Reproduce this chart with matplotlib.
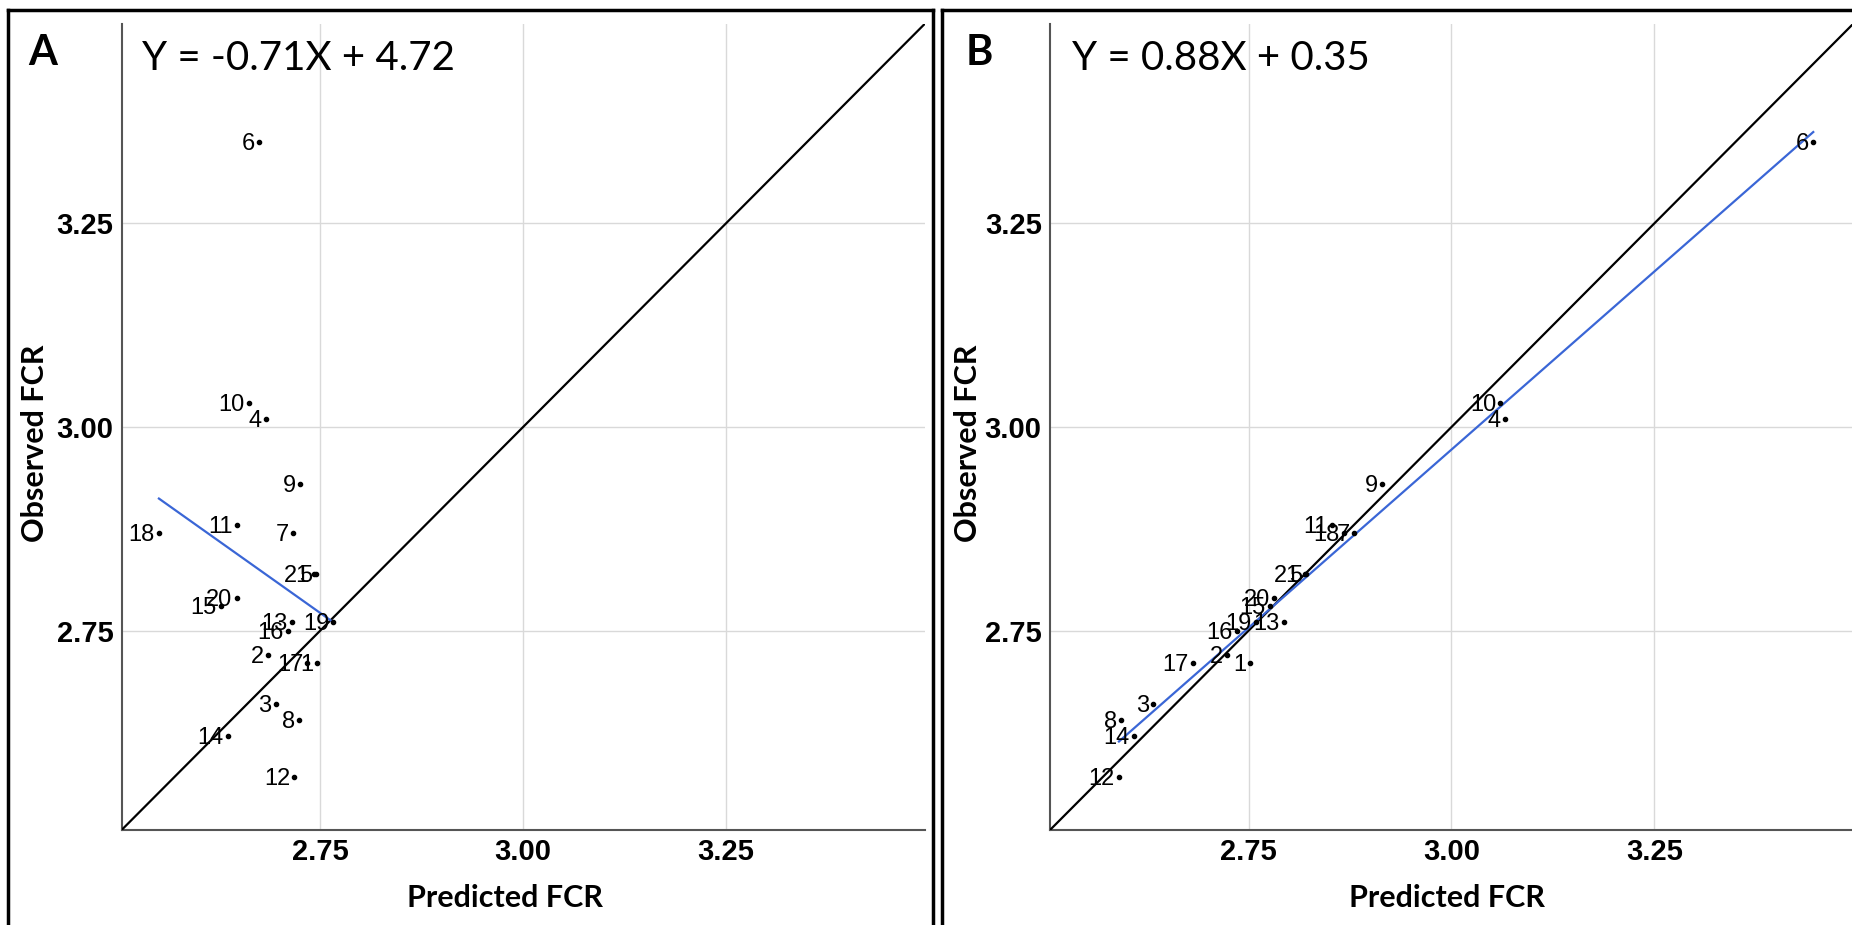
import numpy as np
import matplotlib.pyplot as plt
from matplotlib.lines import Line2D

# %% data
case_id = [str(i) for i in range(1, 22)]
observed = [2.71, 2.72, 2.66, 3.01, 2.82, 3.35, 2.87, 2.64, 2.93, 3.03, 2.88,
            2.57, 2.76, 2.62, 2.78, 2.75, 2.71, 2.87, 2.76, 2.79, 2.82]
predicted_a = [2.746, 2.686, 2.695, 2.683, 2.745, 2.674, 2.716, 2.724, 2.725, 2.662, 2.647,
               2.718, 2.715, 2.636, 2.627, 2.710, 2.734, 2.551, 2.766, 2.647, 2.742]
predicted_b = [2.752, 2.723, 2.632, 3.066, 2.821, 3.446, 2.880, 2.593, 2.914, 3.060, 2.853,
               2.590, 2.793, 2.608, 2.776, 2.735, 2.681, 2.867, 2.759, 2.781, 2.819]
eq_a = 'Y = -0.71X + 4.72'
eq_b = 'Y = 0.88X + 0.35'
ticks = [2.75, 3.00, 3.25]
tick_labels = ['2.75', '3.00', '3.25']

# %% style
lim = (2.505, 3.495)
W, H = 1852, 925
label_font = 'Lato'
num_font = 'Liberation Sans'


def panel(ax, pred):
    ax.set_xlim(lim)
    ax.set_ylim(lim)
    ax.grid(True, color='#d9d9d9', lw=1.0)
    ax.set_axisbelow(True)
    for s in ['top', 'right']:
        ax.spines[s].set_visible(False)
    for s in ['left', 'bottom']:
        ax.spines[s].set_color('#555555')
        ax.spines[s].set_linewidth(1.5)
    ax.set_xticks(ticks)
    ax.set_yticks(ticks)
    ax.set_xticklabels(tick_labels, fontfamily=num_font, fontweight='bold', fontsize=21)
    ax.set_yticklabels(tick_labels, fontfamily=num_font, fontweight='bold', fontsize=21)
    ax.tick_params(axis='x', length=0, pad=6)
    ax.tick_params(axis='y', length=0, pad=6)
    # y = x reference
    ax.plot(lim, lim, color='black', lw=1.6, zorder=3)
    # least squares line over the data range
    slope, icpt = np.polyfit(pred, observed, 1)
    xs = np.array([min(pred), max(pred)])
    ax.plot(xs, slope * xs + icpt, color='#3a66d6', lw=1.6, zorder=4)
    ax.scatter(pred, observed, s=9, color='black', zorder=5)
    for x, y, t in zip(pred, observed, case_id):
        ax.annotate(t, (x, y), xytext=(-3, -1.5), textcoords='offset points',
                    ha='right', va='center', fontsize=17, fontfamily=num_font, zorder=6)


fig = plt.figure(figsize=(W / 100, H / 100), dpi=100)

ax_a = fig.add_axes([121.6 / W, 1 - 830 / H, 803 / W, 806 / H])
panel(ax_a, predicted_a)
ax_b = fig.add_axes([1050 / W, 1 - 830 / H, 803 / W, 806 / H])
panel(ax_b, predicted_b)

# panel letters and equations
fig.text(28 / W, 1 - 53 / H, 'A', fontsize=30, fontweight='bold', fontfamily=label_font, va='center')
fig.text(966 / W, 1 - 53 / H, 'B', fontsize=30, fontweight='bold', fontfamily=label_font, va='center')
fig.text(142 / W, 1 - 59 / H, eq_a, fontsize=29, fontfamily=label_font, va='center')
fig.text(1072 / W, 1 - 59 / H, eq_b, fontsize=29, fontfamily=label_font, va='center')

# axis titles
for cx in [505, 1447]:
    fig.text(cx / W, 1 - 898 / H, 'Predicted FCR', fontsize=22, fontweight='bold',
             fontfamily=label_font, ha='center', va='center')
for cx in [35, 968]:
    fig.text(cx / W, 1 - 443 / H, 'Observed FCR', fontsize=22, fontweight='bold',
             fontfamily=label_font, ha='center', va='center', rotation=90)

# outer frames (open at bottom / right, cropped in original)
frame = dict(color='black', lw=2.5, transform=fig.transFigure)
fig.add_artist(Line2D([8 / W, 8 / W], [0, 1 - 10 / H], **frame))
fig.add_artist(Line2D([8 / W, 933 / W], [1 - 10 / H, 1 - 10 / H], **frame))
fig.add_artist(Line2D([933 / W, 933 / W], [0, 1 - 10 / H], **frame))
fig.add_artist(Line2D([942 / W, 942 / W], [0, 1 - 10 / H], **frame))
fig.add_artist(Line2D([942 / W, 1], [1 - 10 / H, 1 - 10 / H], **frame))

plt.savefig('out.png', dpi=100)
